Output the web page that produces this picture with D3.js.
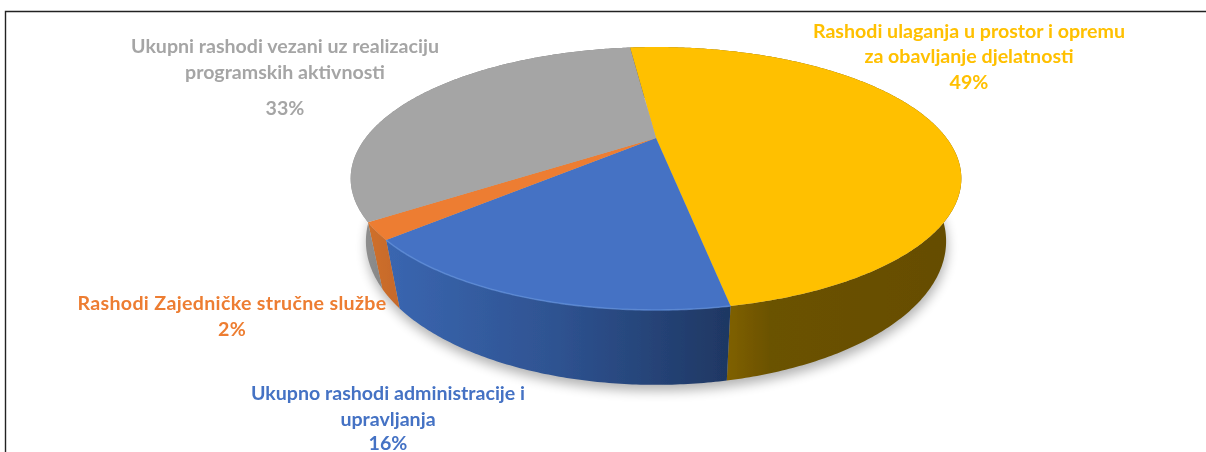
<!DOCTYPE html>
<html lang="en">
<head>
    <meta charset="UTF-8">
    <title>Rashodi</title>
    <script src="https://d3js.org/d3.v7.min.js"></script>
    <style>
        html, body { margin: 0; padding: 0; background: #fff; }
        svg { display: block; }
        text { font-family: Lato, "Open Sans", sans-serif; font-weight: 700; font-size: 19.6px; text-anchor: middle; }
    </style>
</head>
<body>
<svg id="chart" width="1206" height="452"></svg>
<script>
    const categories = ["Rashodi ulaganja", "Administracija", "Zajednicka sluzba", "Programske aktivnosti"];
    const values = [49, 16, 2, 33];
    const percentLabels = ["49%", "16%", "2%", "33%"];
    const labelLines = [
        ["Rashodi ulaganja u prostor i opremu", "za obavljanje djelatnosti"],
        ["Ukupno rashodi administracije i", "upravljanja"],
        ["Rashodi Zajedničke stručne službe"],
        ["Ukupni rashodi vezani uz realizaciju", "programskih aktivnosti"]
    ];
    const colors = ["#ffc000", "#4472c4", "#ed7d31", "#a5a5a5"];

    const svg = d3.select("#chart");
    const defs = svg.append("defs");

    // perspective: circle (u, v) goes to screen with denominator 1 - k*v
    const k = 0.308;
    const topPlane = { x: 656, y: 138, a: 290.5, b: 119 };
    const basePlane = { x: 656, y: 197, a: 276, b: 130 };

    function project(plane, angle) {
        const u = Math.sin(angle);
        const v = -Math.cos(angle);
        const d = 1 - k * v;
        return [plane.x + plane.a * u / d, plane.y + plane.b * v / d];
    }

    const pie = d3.pie().sort(null).startAngle(-6.7 * Math.PI / 180).endAngle(353.3 * Math.PI / 180);
    const slices = pie(values);
    const line = d3.line();

    function arcAngles(a0, a1) {
        const n = Math.max(4, Math.ceil((a1 - a0) / 0.01));
        return d3.range(n + 1).map(i => a0 + (a1 - a0) * i / n);
    }

    // frame
    svg.append("path")
        .attr("d", "M5.5,452V11.5H1206")
        .attr("fill", "none")
        .attr("stroke", "#222")
        .attr("stroke-width", 1.4);

    // soft shadow under the base
    const blur = defs.append("filter").attr("id", "blur")
        .attr("x", "-10%").attr("y", "-10%").attr("width", "120%").attr("height", "130%");
    blur.append("feGaussianBlur").attr("stdDeviation", 6);

    const soft = defs.append("filter").attr("id", "soft")
        .attr("x", "-5%").attr("y", "-10%").attr("width", "110%").attr("height", "120%");
    soft.append("feGaussianBlur").attr("stdDeviation", 0.4);

    svg.append("path")
        .attr("d", line(arcAngles(0, 2 * Math.PI).map(a => project(basePlane, a))) + "Z")
        .attr("transform", "translate(1,6)")
        .attr("fill", "#000")
        .attr("opacity", 0.3)
        .attr("filter", "url(#blur)");

    // side wall colours per slice, lighter on the left and darker on the right
    const wallStops = [
        [[728, "#7f6000"], [770, "#6b5200"], [960, "#654d00"]],
        [[388, "#3a66b0"], [560, "#2e5290"], [725, "#1f3864"]],
        [[365, "#d0702a"], [400, "#c5692a"]],
        [[350, "#959595"], [400, "#7f7f7f"]]
    ];
    slices.forEach((s, i) => {
        const stops = wallStops[i];
        const x0 = stops[0][0];
        const x1 = stops[stops.length - 1][0];
        const g = defs.append("linearGradient").attr("id", "wall" + i)
            .attr("gradientUnits", "userSpaceOnUse")
            .attr("x1", x0).attr("x2", x1)
            .attr("y1", 0).attr("y2", 0);
        stops.forEach(st => {
            g.append("stop")
                .attr("offset", (st[0] - x0) / (x1 - x0))
                .attr("stop-color", st[1]);
        });
    });

    const pieGroup = svg.append("g").attr("filter", "url(#soft)");

    // walls, drawn behind the top faces
    slices.forEach((s, i) => {
        const angles = arcAngles(s.startAngle, s.endAngle);
        const pts = angles.map(a => project(topPlane, a))
            .concat(angles.slice().reverse().map(a => project(basePlane, a)));
        pieGroup.append("path")
            .attr("d", line(pts) + "Z")
            .attr("fill", "url(#wall" + i + ")");
    });

    // top faces
    slices.forEach((s, i) => {
        const pts = [[topPlane.x, topPlane.y]]
            .concat(arcAngles(s.startAngle, s.endAngle).map(a => project(topPlane, a)));
        pieGroup.append("path")
            .attr("d", line(pts) + "Z")
            .attr("fill", colors[i]);
    });

    // light rim on the front edge of the blue slice
    pieGroup.append("path")
        .attr("d", line(arcAngles(slices[1].startAngle, slices[1].endAngle).map(a => project(topPlane, a))))
        .attr("fill", "none")
        .attr("stroke", "#5f8fdc")
        .attr("stroke-width", 1.6)
        .attr("opacity", 0.7);

    // labels
    const labelPos = [
        { x: 969, y: [38, 63, 89] },
        { x: 388, y: [400, 426, 450] },
        { x: 232, y: [310, 336] },
        { x: 285, y: [53, 79, 115] }
    ];
    const labelSpacing = [0, 0, 0.33, 0];
    const labelGroup = svg.append("g").attr("filter", "url(#soft)");
    slices.forEach((s, i) => {
        labelLines[i].concat(percentLabels[i]).forEach((t, j) => {
            labelGroup.append("text")
                .attr("x", labelPos[i].x)
                .attr("y", labelPos[i].y[j])
                .attr("fill", colors[i])
                .attr("letter-spacing", labelSpacing[i])
                .text(t);
        });
    });
</script>
</body>
</html>
